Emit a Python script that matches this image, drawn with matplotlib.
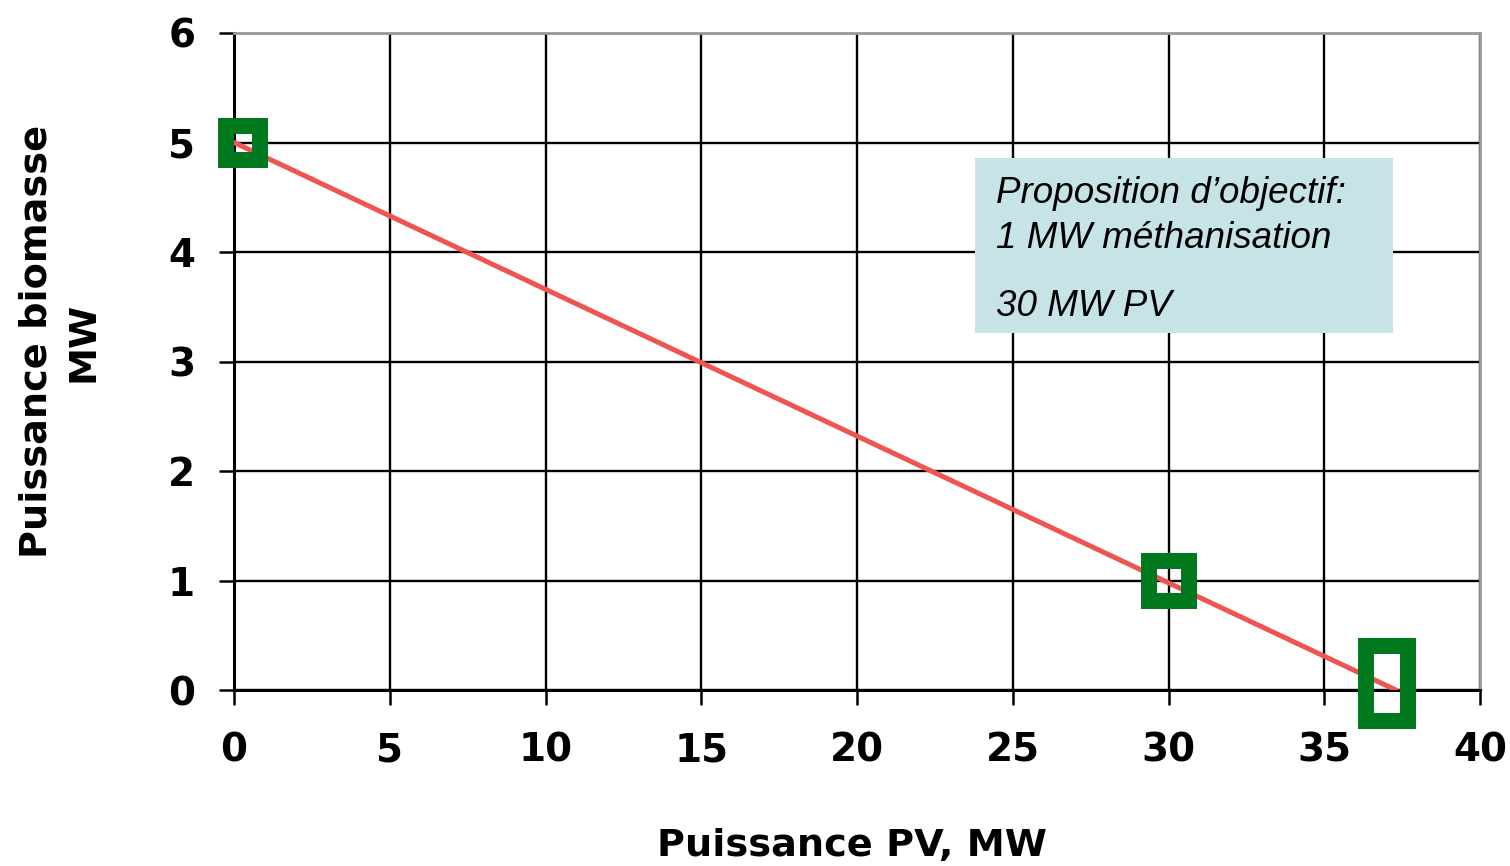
import matplotlib.pyplot as plt
from matplotlib.patches import Rectangle
from matplotlib.markers import MarkerStyle
from matplotlib.transforms import Affine2D

# data
line_x = [0, 37.3]
line_y = [5, 0]
mark_x = [0.3, 30, 37]
mark_y = [5, 1, 0.06]
x_ticks = [0, 5, 10, 15, 20, 25, 30, 35, 40]
y_ticks = [0, 1, 2, 3, 4, 5, 6]
note_lines = ["Proposition d\u2019objectif:", "1 MW méthanisation", "30 MW PV"]

green = "#00781E"
red = "#EE5550"

fig = plt.figure(figsize=(15.1, 8.66), dpi=100)
ax = fig.add_axes([0.155, 0.2032, 0.8252, 0.7587])

ax.set_xlim(0, 40)
ax.set_ylim(0, 6)
ax.set_xticks(x_ticks)
ax.set_yticks(y_ticks)
ax.grid(True, color="black", linewidth=1.7)
ax.set_axisbelow(True)

for s in ["top", "right"]:
    ax.spines[s].set_color("#999999")
    ax.spines[s].set_linewidth(2)
ax.spines["left"].set_linewidth(2.2)
ax.spines["bottom"].set_linewidth(2.2)

ax.tick_params(axis="both", length=11, width=1.8, labelsize=28)
ax.tick_params(axis="y", pad=17)
ax.tick_params(axis="x", pad=19)
for lab in ax.get_xticklabels() + ax.get_yticklabels():
    lab.set_fontweight("bold")

ax.plot(line_x, line_y, color=red, linewidth=3.6, zorder=3)

# hollow green markers; the last one is a tall rectangle
shapes = [MarkerStyle("s"), MarkerStyle("s"),
          MarkerStyle("s", transform=Affine2D().scale(0.55, 1.0))]
sizes = [24, 29, 54]
for x, y, m, ms in zip(mark_x, mark_y, shapes, sizes):
    ax.plot([x], [y], marker=m, markersize=ms,
            markerfacecolor="none", markeredgecolor=green, markeredgewidth=11.5,
            linestyle="none", zorder=4, clip_on=False)

# note box
ax.add_patch(Rectangle((23.8, 3.26), 13.4, 1.6, facecolor="#C6E4E8",
                       edgecolor="none", zorder=5))
for txt, y in zip(note_lines, [4.45, 4.04, 3.42]):
    ax.text(24.45, y, txt, fontsize=26.5, style="italic",
            family="Liberation Sans", va="baseline", zorder=6)

ax.set_xlabel("Puissance PV, MW", fontsize=27.5, fontweight="bold")
ax.xaxis.set_label_coords(0.496, -0.21)
ax.set_ylabel("Puissance biomasse\nMW", fontsize=27.5, fontweight="bold",
              linespacing=1.4)
ax.yaxis.set_label_coords(-0.106, 0.53)

fig.savefig("out.png", dpi=100)
